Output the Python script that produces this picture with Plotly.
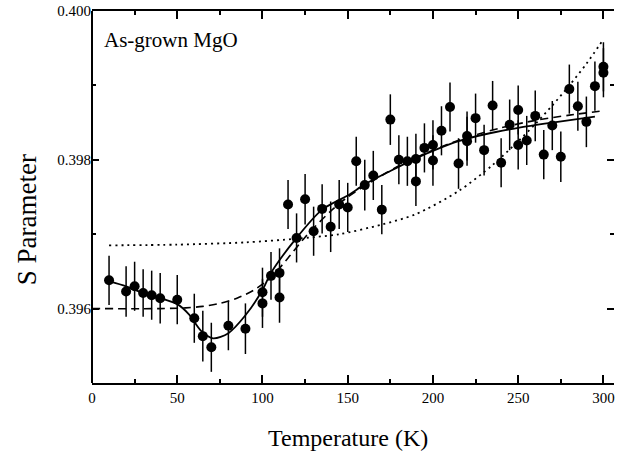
import plotly.graph_objects as go

# Measured data (Temperature K, S parameter, error)
temp = [10, 20, 25, 30, 35, 40, 50, 60, 65, 70, 80, 90, 100, 100, 105, 110, 110, 115, 120, 125,
        130, 135, 140, 145, 150, 155, 160, 165, 170, 175, 180, 185, 190, 190, 195, 200, 200, 205,
        210, 215, 220, 220, 225, 230, 235, 240, 245, 250, 250, 255, 260, 265, 270, 275, 280, 285,
        290, 295, 300, 300]
s_param = [0.39638, 0.39623, 0.39630, 0.39621, 0.39618, 0.39614, 0.39612, 0.39587, 0.39563, 0.39548,
           0.39577, 0.39573, 0.39622, 0.39607, 0.39644, 0.39648, 0.39615, 0.39740, 0.39695, 0.39747,
           0.39704, 0.39734, 0.39710, 0.39740, 0.39736, 0.39798, 0.39766, 0.39779, 0.39733, 0.39854,
           0.39800, 0.39798, 0.39801, 0.39771, 0.39816, 0.39820, 0.39799, 0.39839, 0.39871, 0.39795,
           0.39832, 0.39825, 0.39856, 0.39813, 0.39873, 0.39796, 0.39847, 0.39867, 0.39820, 0.39826,
           0.39859, 0.39807, 0.39846, 0.39804, 0.39895, 0.39872, 0.39851, 0.39899, 0.39925, 0.39917]
s_err = [0.00033, 0.00034, 0.00033, 0.00032, 0.00033, 0.00034, 0.00033, 0.00033, 0.00034, 0.00033,
         0.00033, 0.00034, 0.00033, 0.00033, 0.00032, 0.00033, 0.00034, 0.00033, 0.00033, 0.00034,
         0.00033, 0.00033, 0.00034, 0.00033, 0.00033, 0.00033, 0.00034, 0.00033, 0.00033, 0.00034,
         0.00033, 0.00033, 0.00034, 0.00033, 0.00033, 0.00033, 0.00034, 0.00033, 0.00033, 0.00034,
         0.00033, 0.00033, 0.00033, 0.00034, 0.00033, 0.00033, 0.00034, 0.00033, 0.00033, 0.00033,
         0.00034, 0.00033, 0.00033, 0.00034, 0.00033, 0.00033, 0.00034, 0.00033, 0.00033, 0.00033]

# Fit curves
solid_t = [10, 20, 30, 40, 50, 57, 64, 71, 80, 90, 100, 105, 120, 135, 150, 160, 175, 190, 200,
           215, 230, 250, 270, 295]
solid_s = [0.39637, 0.39630, 0.39621, 0.39614, 0.39606, 0.39592, 0.39570, 0.39560, 0.39567,
           0.39591, 0.39625, 0.39648, 0.39695, 0.39733, 0.39752, 0.39767, 0.39785, 0.39802,
           0.39812, 0.39825, 0.39834, 0.39843, 0.39850, 0.39858]

dash_t = [0, 40, 55, 65, 75, 85, 95, 105, 115, 125, 140, 150, 165, 180, 200, 220, 240, 260, 280, 300]
dash_s = [0.39600, 0.39600, 0.39601, 0.39603, 0.39607, 0.39614, 0.39625, 0.39642, 0.39668,
          0.39696, 0.39731, 0.39750, 0.39772, 0.39792, 0.39813, 0.39830, 0.39843, 0.39853,
          0.39860, 0.39866]

dot_t = [10, 50, 90, 120, 145, 170, 190, 215, 235, 250, 260, 270, 280, 290, 300]
dot_s = [0.39685, 0.39686, 0.39689, 0.39694, 0.39700, 0.39713, 0.39727, 0.39758, 0.39793,
         0.39825, 0.39848, 0.39873, 0.39900, 0.39929, 0.39962]

x_ticks = [0, 50, 100, 150, 200, 250, 300]
y_ticks = [0.396, 0.398, 0.400]
y_tick_text = ["0.396", "0.398", "0.400"]

SERIF = "Liberation Serif, Times New Roman, serif"

fig = go.Figure()

fig.add_trace(go.Scatter(x=dot_t, y=dot_s, mode="lines",
                         line=dict(color="black", width=1.8, dash="2px,4px", shape="spline", smoothing=0.8),
                         showlegend=False, hoverinfo="skip"))
fig.add_trace(go.Scatter(x=dash_t, y=dash_s, mode="lines",
                         line=dict(color="black", width=1.6, dash="8px,5px", shape="spline", smoothing=0.8),
                         showlegend=False, hoverinfo="skip"))
fig.add_trace(go.Scatter(x=solid_t, y=solid_s, mode="lines",
                         line=dict(color="black", width=1.8, shape="spline", smoothing=0.8),
                         showlegend=False, hoverinfo="skip"))
fig.add_trace(go.Scatter(x=temp, y=s_param, mode="markers",
                         marker=dict(color="black", size=10),
                         error_y=dict(type="data", array=s_err, visible=True, color="black",
                                      thickness=1.5, width=0),
                         showlegend=False))

fig.update_layout(
    width=618, height=460,
    margin=dict(l=92, r=4, t=11, b=77),
    paper_bgcolor="white", plot_bgcolor="white",
    font=dict(family=SERIF, color="black", size=15),
    xaxis=dict(range=[0, 306.2], tickvals=x_ticks, ticks="inside", ticklen=8, tickwidth=1.5,
               tickcolor="black", showline=True, linewidth=2, linecolor="black", mirror="ticks",
               showgrid=False, zeroline=False, tickfont=dict(family=SERIF, size=15),
               minor=dict(dtick=25, tick0=0, ticks="inside", ticklen=4, tickwidth=1.5,
                          tickcolor="black", showgrid=False)),
    yaxis=dict(range=[0.395, 0.400], tickvals=y_ticks, ticktext=y_tick_text, ticks="inside",
               ticklen=7, tickwidth=1.5, tickcolor="black", showline=False, mirror="ticks",
               showgrid=False, zeroline=False, tickfont=dict(family=SERIF, size=15),
               minor=dict(dtick=0.001, tick0=0.395, ticks="inside", ticklen=4, tickwidth=1.5,
                          tickcolor="black", showgrid=False)),
    shapes=[dict(type="line", xref="paper", yref="paper", x0=0, x1=0, y0=0, y1=1,
                 line=dict(color="black", width=2))],
    annotations=[
        dict(text="As-grown MgO", xref="paper", yref="paper", x=0.02, y=0.922,
             xanchor="left", yanchor="middle", showarrow=False,
             font=dict(family=SERIF, size=21, color="black")),
        dict(text="Temperature (K)", xref="x", yref="paper", x=150, y=-0.148,
             xanchor="center", yanchor="middle", showarrow=False,
             font=dict(family=SERIF, size=24, color="black")),
        dict(text="S Parameter", xref="paper", yref="paper", x=-0.124, y=0.438,
             xanchor="center", yanchor="middle", textangle=-90, showarrow=False,
             font=dict(family=SERIF, size=27, color="black")),
    ],
)

fig.write_html("out.html")
